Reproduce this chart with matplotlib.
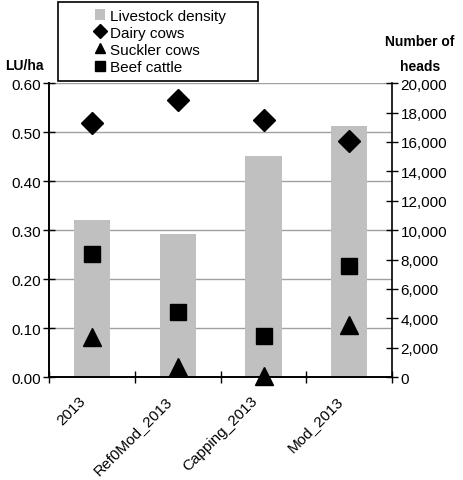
import matplotlib
matplotlib.use('Agg')
import matplotlib.pyplot as plt
import matplotlib.transforms as mtransforms
import numpy as np
from matplotlib.ticker import FuncFormatter, FixedLocator
from matplotlib.patches import Rectangle

plt.rcParams['font.family'] = ['Liberation Sans', 'DejaVu Sans']
plt.rcParams['font.size'] = 11

scenarios = ['2013', 'Ref0Mod_2013', 'Capping_2013', 'Mod_2013']
livestock_density = [0.32, 0.292, 0.451, 0.512]   # LU/ha
dairy_cows = [17300, 18870, 17470, 16040]           # heads
suckler_cows = [2740, 660, 60, 3520]
beef_cattle = [8360, 4440, 2820, 7590]

x = np.arange(len(scenarios))

fig = plt.figure(figsize=(4.63, 4.81), dpi=100)
ax = fig.add_axes([0.106, 0.214, 0.741, 0.611])
ax2 = ax.twinx()

# bars on left axis
ax.bar(x, livestock_density, width=0.42, color='#c0c0c0', zorder=2,
       label='Livestock density')
ax.set_ylim(0, 0.6)
ax.set_yticks(np.arange(0, 0.61, 0.1))
ax.yaxis.set_major_formatter(FuncFormatter(lambda v, p: f'{v:.2f}'))
ax.yaxis.grid(True, color='#a0a0a0', lw=1.0, zorder=0)
ax.set_axisbelow(True)
ax.set_xlim(-0.5, len(scenarios) - 0.5)
ax.set_xticks(x)
ax.set_xticklabels(scenarios, rotation=45, ha='right', rotation_mode='anchor')
ax.xaxis.set_minor_locator(FixedLocator(np.arange(-0.5, len(scenarios), 1.0)))
ax.tick_params(axis='x', which='major', length=0, pad=8)
ax.tick_params(axis='x', which='minor', direction='inout', length=8, width=1)
ax.tick_params(axis='y', direction='inout', length=8, width=1, pad=2)

# shift rotated labels a bit left/down like the original
offset = mtransforms.ScaledTranslation(-13 / 100, -5 / 100, fig.dpi_scale_trans)
for lbl in ax.get_xticklabels():
    lbl.set_transform(lbl.get_transform() + offset)

# markers on right axis
ax2.plot(x, dairy_cows, 'kD', ms=11.5, ls='none', label='Dairy cows', clip_on=False, zorder=3)
ax2.plot(x, suckler_cows, 'k^', ms=13, ls='none', label='Suckler cows', clip_on=False, zorder=3)
ax2.plot(x, beef_cattle, 'ks', ms=11.5, ls='none', label='Beef cattle', clip_on=False, zorder=3)
ax2.set_ylim(0, 20000)
ax2.set_yticks(np.arange(0, 20001, 2000))
ax2.yaxis.set_major_formatter(FuncFormatter(lambda v, p: f'{int(v):,}'))
ax2.tick_params(axis='y', direction='inout', length=8, width=1, pad=2)

for a in (ax, ax2):
    a.spines['top'].set_visible(False)
    for s in ('left', 'right', 'bottom'):
        a.spines[s].set_linewidth(1.2)
ax.spines['right'].set_visible(False)

fig.text(0.052, 0.862, 'LU/ha', ha='center', va='center', fontweight='bold', fontsize=10)
fig.text(0.907, 0.913, 'Number of', ha='center', va='center', fontweight='bold', fontsize=10)
fig.text(0.907, 0.860, 'heads', ha='center', va='center', fontweight='bold', fontsize=10)

# legend box
fig.patches.append(Rectangle((58 / 463, 1 - 82 / 481), 200 / 463, 79 / 481,
                             transform=fig.transFigure, fill=False, ec='black', lw=1.2))
h1, l1 = ax.get_legend_handles_labels()
h2, l2 = ax2.get_legend_handles_labels()
fig.legend(h1 + h2, l1 + l2, loc='upper left', bbox_to_anchor=(84 / 463, 1 + 1 / 481),
           frameon=False, fontsize=11, markerscale=0.6, handlelength=0.7,
           handletextpad=0.3, labelspacing=0.2, borderpad=0.2)

fig.savefig('out.png', dpi=100)
